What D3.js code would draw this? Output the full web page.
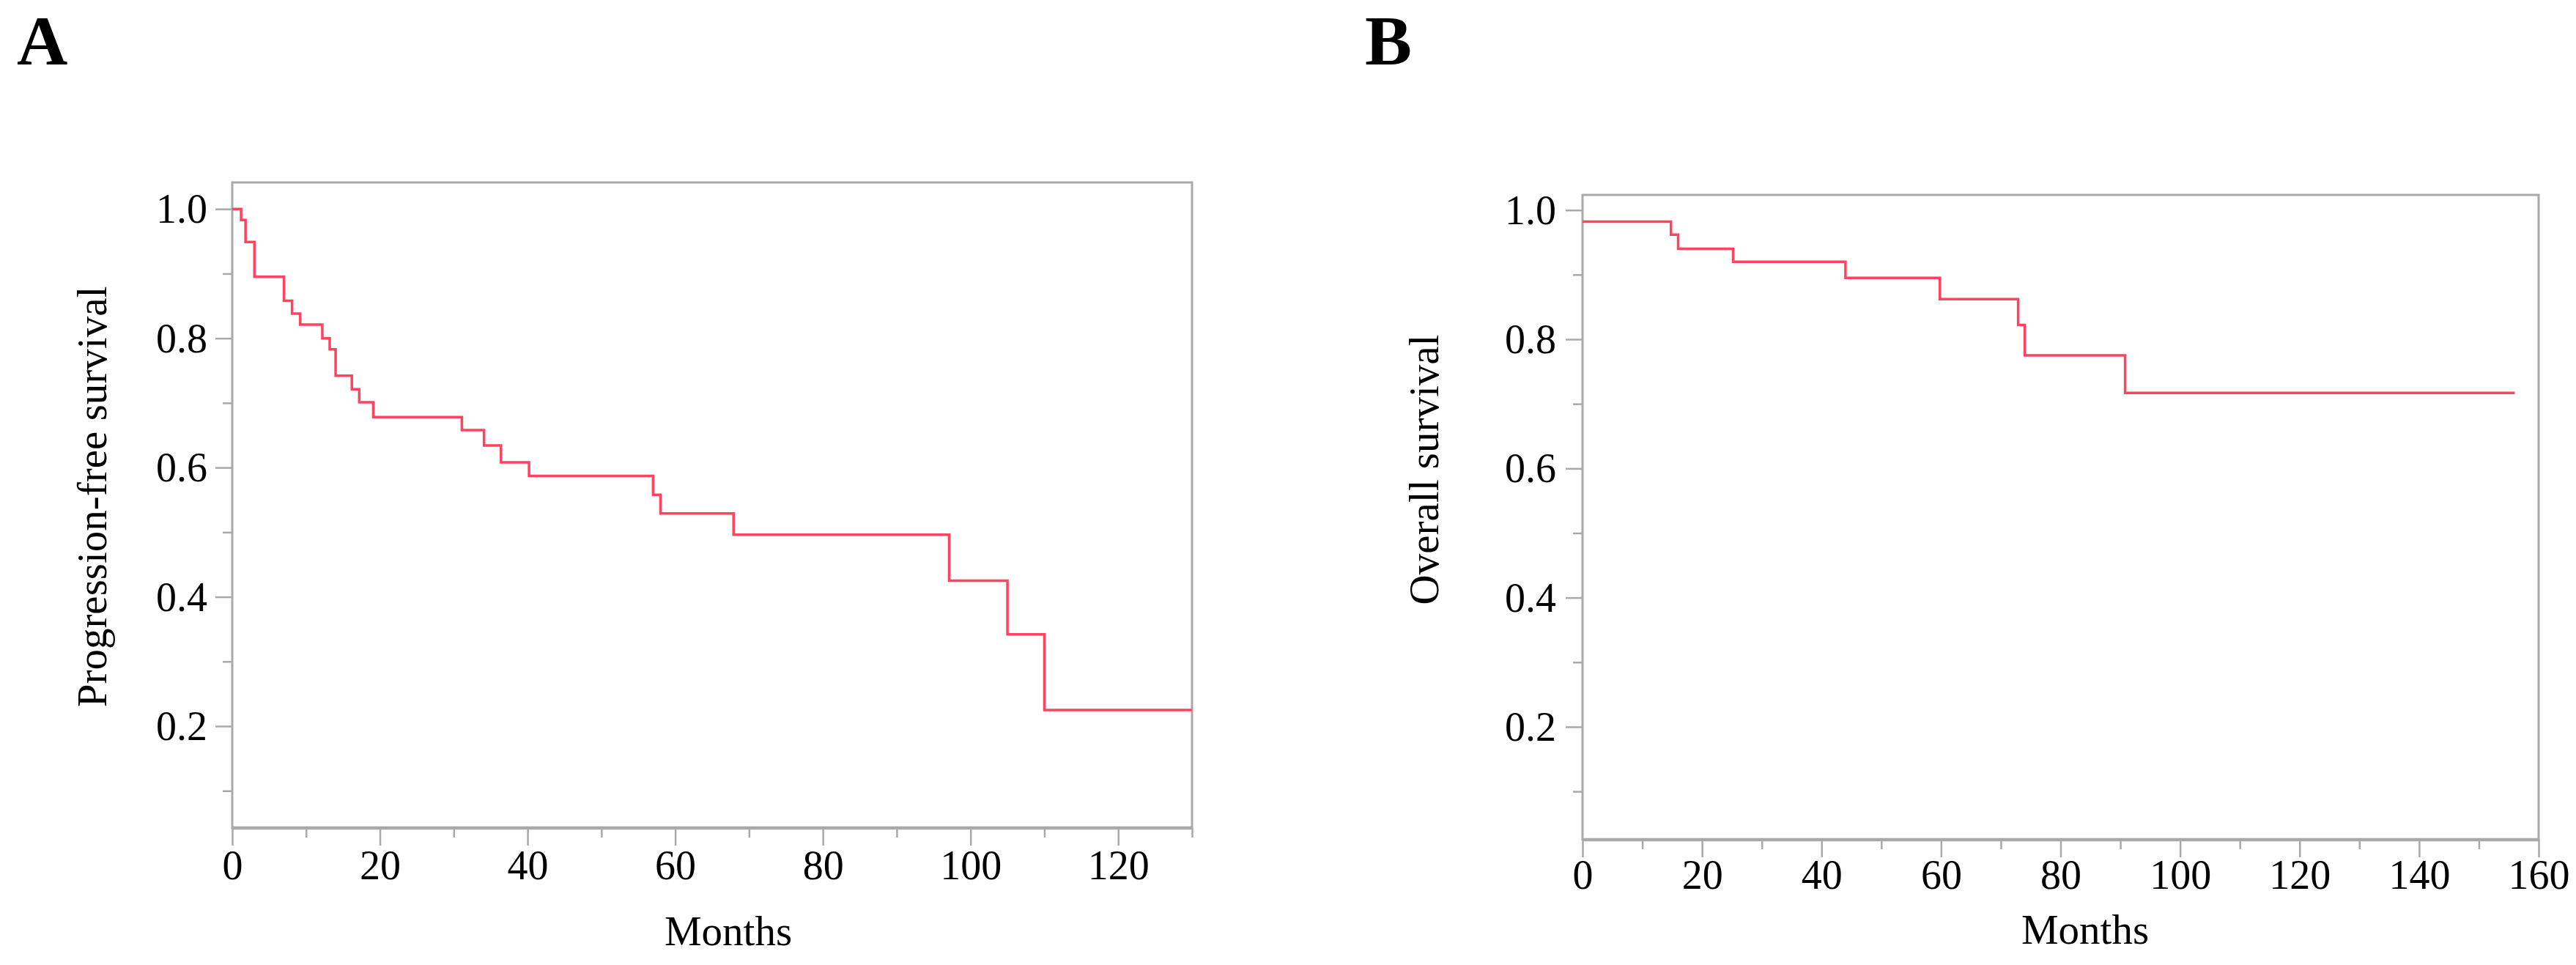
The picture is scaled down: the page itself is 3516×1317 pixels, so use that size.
<!DOCTYPE html>
<html>
<head>
<meta charset="utf-8">
<script src="https://cdn.jsdelivr.net/npm/d3@7"></script>
<style>
  body { margin: 0; background: #fff; }
  svg text { font-family: "Liberation Serif", "Times New Roman", serif; fill: #000; }
</style>
</head>
<body>
<div id="chart"></div>
<script>
// Kaplan-Meier steps
var pfsMonths   = [0, 1.2, 1.8, 3.0, 7.0, 8.1, 9.2, 12.2, 13.2, 14.0, 16.2, 17.2, 19.1, 31.1, 34.1, 36.4, 40.2, 57.0, 58.0, 67.9, 97.1, 105.0, 110.0];
var pfsSurvival = [1.0, 0.983, 0.949, 0.895, 0.858, 0.838, 0.821, 0.800, 0.783, 0.742, 0.721, 0.701, 0.678, 0.658, 0.634, 0.608, 0.587, 0.558, 0.529, 0.496, 0.425, 0.342, 0.225];
var pfsLastMonth = 130;

var osMonths   = [0, 14.8, 16.0, 25.2, 44.0, 59.8, 72.9, 74.0, 90.8];
var osSurvival = [0.982, 0.962, 0.940, 0.920, 0.895, 0.862, 0.822, 0.775, 0.717];
var osLastMonth = 156;

var pfsXTicks = [0, 20, 40, 60, 80, 100, 120];
var pfsXMinor = [10, 30, 50, 70, 90, 110, 130];
var osXTicks  = [0, 20, 40, 60, 80, 100, 120, 140, 160];
var osXMinor  = [10, 30, 50, 70, 90, 110, 130, 150];
var yTicks = [0.2, 0.4, 0.6, 0.8, 1.0];
var yMinor = [0.1, 0.3, 0.5, 0.7, 0.9];

var svg = d3.select('#chart').append('svg')
	.attr('width', 3516).attr('height', 1317);

var grey = '#a9a9a9';
var red = '#ff4361';

function drawPanel(p)
{
	var x = d3.scaleLinear().domain(p.xDomain).range([p.left, p.right]);
	var y = d3.scaleLinear().domain(p.yDomain).range([p.bottom, p.top]);
	var g = svg.append('g');

	// panel letter
	g.append('text').attr('x', p.letterX).attr('y', 88)
		.style('font-size', '96px').style('font-weight', 'bold').text(p.letter);

	// minor ticks
	g.append('g').attr('transform', 'translate(0,' + p.bottom + ')')
		.call(d3.axisBottom(x).tickValues(p.xMinor).tickSize(13).tickSizeOuter(0).tickFormat(''));
	g.append('g').attr('transform', 'translate(' + p.left + ',0)')
		.call(d3.axisLeft(y).tickValues(yMinor).tickSize(13).tickSizeOuter(0).tickFormat(''));

	// major ticks + labels
	var xa = g.append('g').attr('transform', 'translate(0,' + p.bottom + ')')
		.call(d3.axisBottom(x).tickValues(p.xTicks).tickSize(24).tickSizeOuter(0).tickFormat(d3.format('d')));
	xa.selectAll('text').attr('y', p.xLabelOff).attr('dy', 0).style('font-size', '56px');

	var ya = g.append('g').attr('transform', 'translate(' + p.left + ',0)')
		.call(d3.axisLeft(y).tickValues(yTicks).tickSize(23).tickSizeOuter(0).tickFormat(d3.format('.1f')));
	ya.selectAll('text').attr('x', -p.yLabelOff).attr('dy', '0.33em').style('font-size', '56px');

	svg.selectAll('.domain').remove();
	g.selectAll('.tick line').attr('stroke', grey).attr('stroke-width', 2.5);

	// frame
	g.append('rect').attr('x', p.left).attr('y', p.top)
		.attr('width', p.right - p.left).attr('height', p.bottom - p.top)
		.attr('fill', 'none').attr('stroke', grey).attr('stroke-width', 3);
	g.append('line').attr('x1', p.left).attr('x2', p.right)
		.attr('y1', p.bottom).attr('y2', p.bottom)
		.attr('stroke', grey).attr('stroke-width', 4.5);

	// survival curve
	var pts = p.months.map(function(m, i) { return [m, p.surv[i]]; });
	pts.push([p.lastMonth, p.surv[p.surv.length - 1]]);
	var line = d3.line()
		.x(function(d) { return x(d[0]); })
		.y(function(d) { return y(d[1]); })
		.curve(d3.curveStepAfter);
	g.append('path').datum(pts).attr('d', line)
		.attr('fill', 'none').attr('stroke', red).attr('stroke-width', 3.5);

	// axis titles
	g.append('text').attr('x', p.monthsX).attr('y', p.monthsY)
		.attr('text-anchor', 'middle').style('font-size', '57px').text('Months');
	g.append('text')
		.attr('transform', 'translate(' + p.yTitleX + ',' + p.yTitleY + ') rotate(-90)')
		.attr('text-anchor', 'middle').style('font-size', '57px').text(p.yTitle);
}

drawPanel({
	letter: 'A', letterX: 23,
	left: 317, right: 1627, top: 249, bottom: 1130,
	xDomain: [0, 130], yDomain: [0.0425, 1.041],
	xTicks: pfsXTicks, xMinor: pfsXMinor,
	xLabelOff: 70, yLabelOff: 34,
	months: pfsMonths, surv: pfsSurvival, lastMonth: pfsLastMonth,
	monthsX: 994, monthsY: 1290,
	yTitle: 'Progression-free survival', yTitleX: 145, yTitleY: 678
});

drawPanel({
	letter: 'B', letterX: 1863,
	left: 2160, right: 3465, top: 266, bottom: 1146,
	xDomain: [0, 160], yDomain: [0.0252, 1.0235],
	xTicks: osXTicks, xMinor: osXMinor,
	xLabelOff: 67, yLabelOff: 36,
	months: osMonths, surv: osSurvival, lastMonth: osLastMonth,
	monthsX: 2846, monthsY: 1288,
	yTitle: 'Overall survival', yTitleX: 1963, yTitleY: 641
});
</script>
</body>
</html>
